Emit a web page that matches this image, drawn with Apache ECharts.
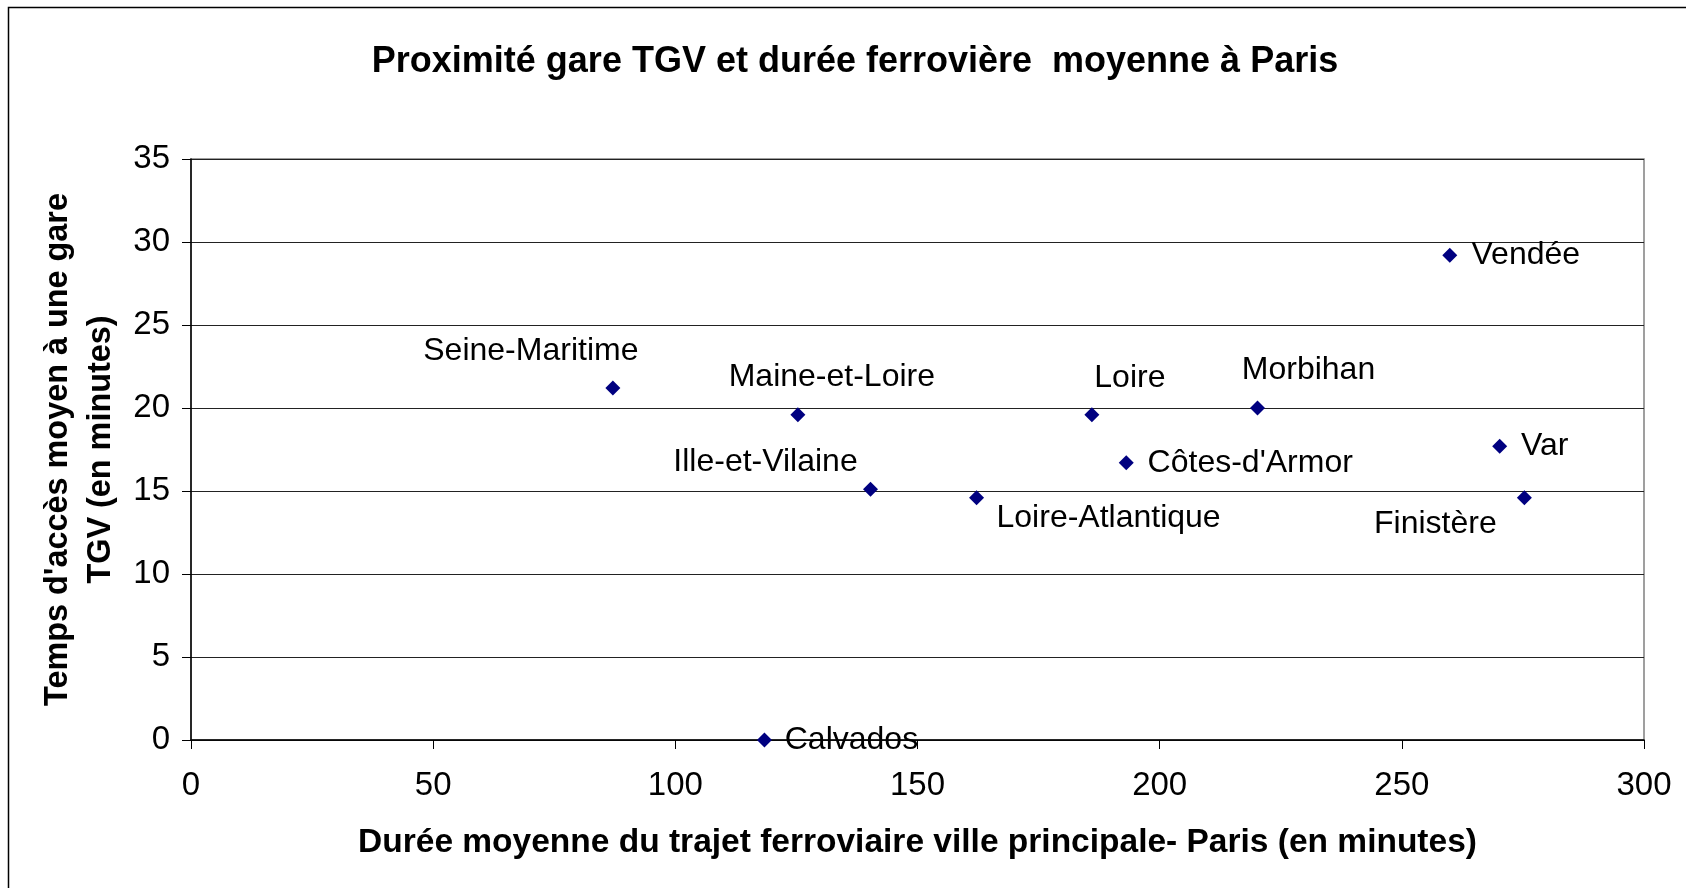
<!DOCTYPE html>
<html>
<head>
<meta charset="utf-8">
<script src="https://cdn.jsdelivr.net/npm/echarts@6/dist/echarts.min.js"></script>
<style>
  html, body { margin: 0; padding: 0; background: #fff; }
  #container { width: 1686px; height: 888px; }
</style>
</head>
<body>
<div id="container"></div>
<script>
// départements
var names = ['Seine-Maritime', 'Maine-et-Loire', 'Ille-et-Vilaine', 'Loire-Atlantique', 'Calvados',
    'Loire', "Côtes-d'Armor", 'Morbihan', 'Vendée', 'Var', 'Finistère'];
// durée trajet vers Paris (min)
var dureeParis = [87.1, 125.3, 140.3, 162.2, 118.4, 186.0, 193.1, 220.2, 259.9, 270.2, 275.3];
// temps d'accès gare TGV (min)
var accesTGV = [21.2, 19.6, 15.1, 14.6, 0, 19.6, 16.7, 20.0, 29.2, 17.7, 14.6];

// placement des étiquettes (décalage par rapport au point)
var labelOffsets = {
    'Seine-Maritime': [-82, -37],
    'Maine-et-Loire': [34, -37],
    'Ille-et-Vilaine': [-105, -27],
    'Loire-Atlantique': [132, 21],
    'Calvados': [87, 0],
    'Loire': [38, -36],
    "Côtes-d'Armor": [124, 0],
    'Morbihan': [51, -38],
    'Vendée': [76, 0],
    'Var': [45, 0],
    'Finistère': [-89, 27]
};

var font = "'Liberation Sans', Arial, sans-serif";

var points = [];
for (var i = 0; i < names.length; i++) {
    points.push({
        name: names[i],
        value: [dureeParis[i], accesTGV[i]],
        label: {offset: labelOffsets[names[i]]}
    });
}

var myChart = echarts.init(document.getElementById('container'));

var option = {
    backgroundColor: '#fff',
    animation: false,
    title: {
        text: 'Proximité gare TGV et durée ferrovière  moyenne à Paris',
        left: 850,
        top: 39,
        textAlign: 'center',
        textStyle: {fontFamily: font, fontSize: 36, fontWeight: 'bold', color: '#000'}
    },
    graphic: [{
        type: 'rect',
        shape: {x: 8.5, y: 7.5, width: 2000, height: 2000},
        style: {fill: null, stroke: '#000', lineWidth: 1.5},
        silent: true,
        z: -10
    }],
    grid: {
        left: 191,
        right: 42,
        top: 159,
        bottom: 148,
        show: true,
        borderColor: '#808080',
        borderWidth: 1.5
    },
    xAxis: {
        type: 'value',
        min: 0,
        max: 300,
        interval: 50,
        name: 'Durée moyenne du trajet ferroviaire ville principale- Paris (en minutes)',
        nameLocation: 'middle',
        nameGap: 86,
        nameTextStyle: {fontFamily: font, fontSize: 33.5, fontWeight: 'bold', color: '#000'},
        axisLine: {show: true, lineStyle: {color: '#000', width: 1.5}},
        axisTick: {show: true, inside: false, length: 9, lineStyle: {color: '#000'}},
        axisLabel: {margin: 29, fontFamily: font, fontSize: 33, color: '#000'},
        splitLine: {show: false}
    },
    yAxis: {
        type: 'value',
        min: 0,
        max: 35,
        interval: 5,
        name: "Temps d'accès moyen à une gare\nTGV (en minutes)",
        nameLocation: 'middle',
        nameRotate: 90,
        nameGap: 65,
        nameTextStyle: {fontFamily: font, fontSize: 32.4, fontWeight: 'bold', color: '#000', lineHeight: 43},
        axisLine: {show: true, lineStyle: {color: '#000', width: 1.5}},
        axisTick: {show: true, inside: false, length: 9, lineStyle: {color: '#000'}},
        axisLabel: {margin: 21, fontFamily: font, fontSize: 33, color: '#000'},
        splitLine: {show: true, lineStyle: {color: '#222', width: 1.2}}
    },
    series: [{
        type: 'scatter',
        symbol: 'diamond',
        symbolSize: 15,
        itemStyle: {color: '#000080', opacity: 1},
        label: {
            show: true,
            position: 'inside',
            formatter: '{b}',
            fontFamily: font,
            fontSize: 32,
            color: '#000'
        },
        data: points
    }]
};
myChart.setOption(option);
</script>
</body>
</html>
